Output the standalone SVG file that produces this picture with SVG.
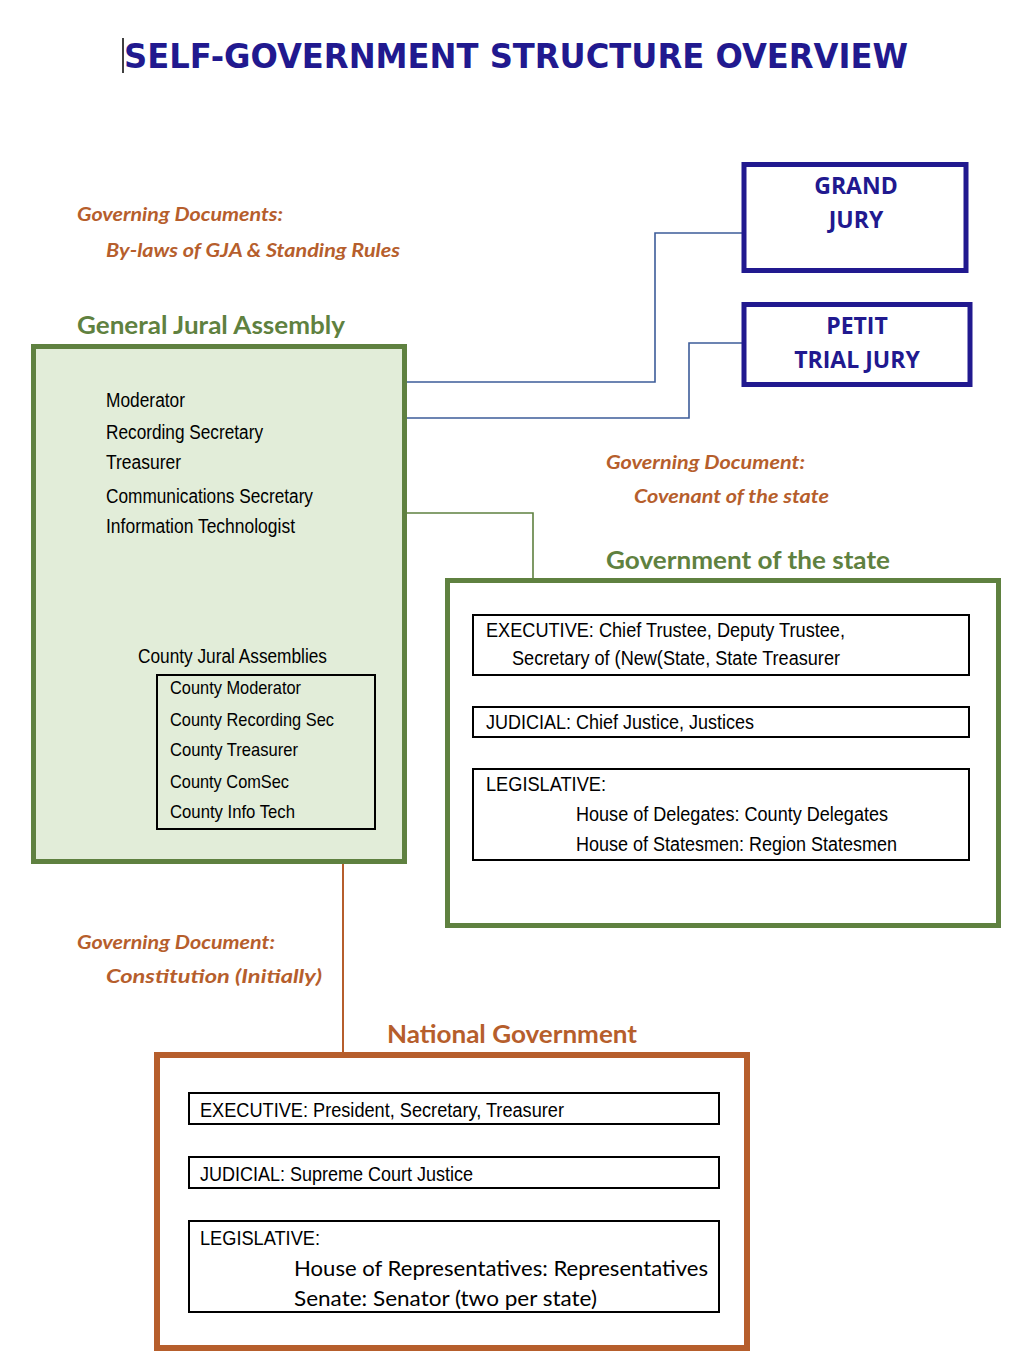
<svg xmlns="http://www.w3.org/2000/svg" width="1026" height="1370" viewBox="0 0 1026 1370">
<style>
.title{font-family:"DejaVu Sans",Verdana,sans-serif;font-weight:bold;font-size:33px;fill:#21198F}
.doc{font-family:Lato,"Open Sans",sans-serif;font-style:italic;font-weight:bold;font-size:19px;fill:#B65E2C}
.hg{font-family:Lato,"Open Sans",sans-serif;font-weight:bold;font-size:25px;fill:#5F8140}
.ho{font-family:Lato,"Open Sans",sans-serif;font-weight:bold;font-size:25px;fill:#B65E2C}
.jury{font-family:"Open Sans",Lato,sans-serif;font-weight:bold;font-size:23px;fill:#21198F;text-anchor:middle}
.n{font-family:"Liberation Sans Narrow","Liberation Sans",Arial,sans-serif;font-size:20px;fill:#000}
.nc{font-family:"Liberation Sans Narrow","Liberation Sans",Arial,sans-serif;font-size:19px;fill:#000}
.cal{font-family:Lato,"Open Sans",sans-serif;font-size:21px;fill:#000}
.gbox{fill:none;stroke:#5F8140;stroke-width:5}
.obox{fill:none;stroke:#B65E2C;stroke-width:6}
.jbox{fill:#fff;stroke:#21198F;stroke-width:5}
.sub{fill:#fff;stroke:#000;stroke-width:2}
.cb{fill:none;stroke:#3D5C99;stroke-width:1.6}
.cg{fill:none;stroke:#5F8140;stroke-width:1.6}
.co{fill:none;stroke:#B65E2C;stroke-width:2}
</style>

<g id="title">
<line x1="123" y1="38" x2="123" y2="73" stroke="#000" stroke-width="1.5"/>
<text class="title" x="124" y="68" textLength="784" lengthAdjust="spacingAndGlyphs">SELF-GOVERNMENT STRUCTURE OVERVIEW</text>
</g>

<g id="connectors">
<polyline class="cb" points="407,382 655,382 655,233 744,233"/>
<polyline class="cb" points="407,418 689,418 689,343 744,343"/>
<polyline class="cg" points="407,513 533,513 533,579"/>
<line class="co" x1="343" y1="864" x2="343" y2="1054"/>
</g>

<g id="gja-docs">
<text class="doc" x="77" y="221" textLength="206" lengthAdjust="spacingAndGlyphs">Governing Documents:</text>
<text class="doc" x="106" y="257" textLength="294" lengthAdjust="spacingAndGlyphs">By-laws of GJA &amp; Standing Rules</text>
</g>

<g id="general-jural-assembly">
<text class="hg" x="77" y="334" textLength="268" lengthAdjust="spacingAndGlyphs">General Jural Assembly</text>
<rect x="33.5" y="346.5" width="371" height="515" fill="#E2EDD9" stroke="#5F8140" stroke-width="5"/>
<text class="n" x="106" y="407" textLength="79" lengthAdjust="spacingAndGlyphs">Moderator</text>
<text class="n" x="106" y="439" textLength="157" lengthAdjust="spacingAndGlyphs">Recording Secretary</text>
<text class="n" x="106" y="469" textLength="75" lengthAdjust="spacingAndGlyphs">Treasurer</text>
<text class="n" x="106" y="503" textLength="207" lengthAdjust="spacingAndGlyphs">Communications Secretary</text>
<text class="n" x="106" y="533" textLength="189" lengthAdjust="spacingAndGlyphs">Information Technologist</text>
</g>

<g id="county-jural-assemblies">
<text class="n" x="138" y="663" textLength="189" lengthAdjust="spacingAndGlyphs">County Jural Assemblies</text>
<rect x="157" y="675" width="218" height="154" fill="none" stroke="#000" stroke-width="2"/>
<text class="nc" x="170" y="694" textLength="131" lengthAdjust="spacingAndGlyphs">County Moderator</text>
<text class="nc" x="170" y="726" textLength="164" lengthAdjust="spacingAndGlyphs">County Recording Sec</text>
<text class="nc" x="170" y="756" textLength="128" lengthAdjust="spacingAndGlyphs">County Treasurer</text>
<text class="nc" x="170" y="788" textLength="119" lengthAdjust="spacingAndGlyphs">County ComSec</text>
<text class="nc" x="170" y="818" textLength="125" lengthAdjust="spacingAndGlyphs">County Info Tech</text>
</g>

<g id="grand-jury">
<rect class="jbox" x="744" y="164.5" width="222" height="106"/>
<text class="jury" x="856" y="194">GRAND</text>
<text class="jury" x="856" y="228">JURY</text>
</g>

<g id="petit-trial-jury">
<rect class="jbox" x="744" y="304.5" width="226" height="80"/>
<text class="jury" x="857" y="334">PETIT</text>
<text class="jury" x="857" y="368">TRIAL JURY</text>
</g>

<g id="state-docs">
<text class="doc" x="606" y="469" textLength="199" lengthAdjust="spacingAndGlyphs">Governing Document:</text>
<text class="doc" x="634" y="503" textLength="195" lengthAdjust="spacingAndGlyphs">Covenant of the state</text>
</g>

<g id="government-of-the-state">
<text class="hg" x="606" y="569" textLength="284" lengthAdjust="spacingAndGlyphs">Government of the state</text>
<rect class="gbox" x="447.5" y="580.5" width="551" height="345"/>
<rect class="sub" x="473" y="615" width="496" height="60"/>
<text class="n" x="486" y="637" textLength="359" lengthAdjust="spacingAndGlyphs">EXECUTIVE: Chief Trustee, Deputy Trustee,</text>
<text class="n" x="512" y="665" textLength="328" lengthAdjust="spacingAndGlyphs">Secretary of (New(State, State Treasurer</text>
<rect class="sub" x="473" y="707" width="496" height="30"/>
<text class="n" x="486" y="729" textLength="268" lengthAdjust="spacingAndGlyphs">JUDICIAL: Chief Justice, Justices</text>
<rect class="sub" x="473" y="769" width="496" height="91"/>
<text class="n" x="486" y="791" textLength="120" lengthAdjust="spacingAndGlyphs">LEGISLATIVE:</text>
<text class="n" x="576" y="821" textLength="312" lengthAdjust="spacingAndGlyphs">House of Delegates: County Delegates</text>
<text class="n" x="576" y="851" textLength="321" lengthAdjust="spacingAndGlyphs">House of Statesmen: Region Statesmen</text>
</g>

<g id="national-docs">
<text class="doc" x="77" y="949" textLength="198" lengthAdjust="spacingAndGlyphs">Governing Document:</text>
<text class="doc" x="106" y="983" textLength="216" lengthAdjust="spacingAndGlyphs">Constitution (Initially)</text>
</g>

<g id="national-government">
<text class="ho" x="387" y="1043" textLength="250" lengthAdjust="spacingAndGlyphs">National Government</text>
<rect class="obox" x="157" y="1055" width="590" height="293"/>
<rect class="sub" x="189" y="1093" width="530" height="31"/>
<text class="n" x="200" y="1117" textLength="364" lengthAdjust="spacingAndGlyphs">EXECUTIVE: President, Secretary, Treasurer</text>
<rect class="sub" x="189" y="1157" width="530" height="31"/>
<text class="n" x="200" y="1181" textLength="273" lengthAdjust="spacingAndGlyphs">JUDICIAL: Supreme Court Justice</text>
<rect class="sub" x="189" y="1221" width="530" height="91"/>
<text class="n" x="200" y="1245" textLength="120" lengthAdjust="spacingAndGlyphs">LEGISLATIVE:</text>
<text class="cal" x="294" y="1276" textLength="414" lengthAdjust="spacingAndGlyphs">House of Representatives: Representatives</text>
<text class="cal" x="294" y="1306" textLength="303" lengthAdjust="spacingAndGlyphs">Senate: Senator (two per state)</text>
</g>
</svg>
